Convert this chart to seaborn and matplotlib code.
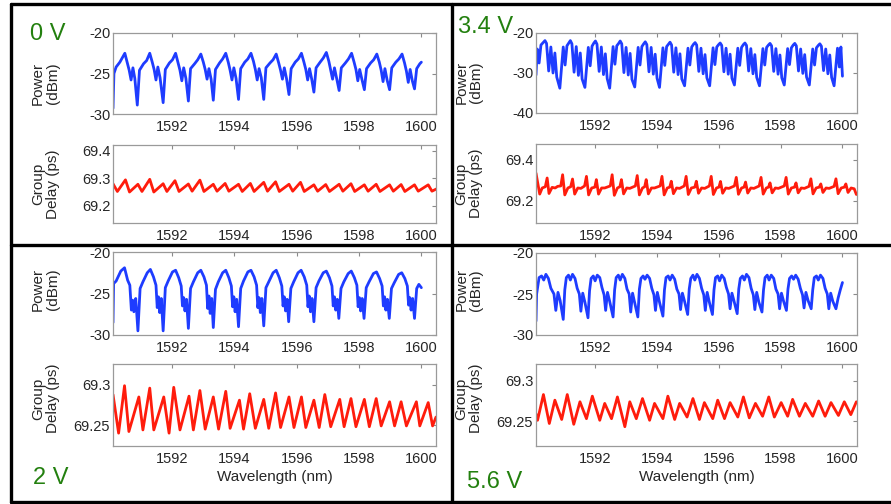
import matplotlib
matplotlib.use("Agg")
import matplotlib.pyplot as plt
from matplotlib.lines import Line2D
import seaborn as sns

# ---------------- data ----------------
# 0 V : power (dBm) vs wavelength (nm)
wl_0v_pow = [1590.10, 1590.13, 1590.20, 1590.32, 1590.48, 1590.56, 1590.62, 1590.68, 1590.74, 1590.80,
             1590.88, 1590.95, 1591.08, 1591.18, 1591.28, 1591.36, 1591.42, 1591.48, 1591.54, 1591.61,
             1591.71, 1591.78, 1591.91, 1592.01, 1592.11, 1592.19, 1592.25, 1592.31, 1592.37, 1592.44,
             1592.52, 1592.59, 1592.72, 1592.82, 1592.92, 1593.00, 1593.06, 1593.12, 1593.18, 1593.25,
             1593.32, 1593.39, 1593.52, 1593.62, 1593.72, 1593.80, 1593.86, 1593.92, 1593.98, 1594.05,
             1594.13, 1594.20, 1594.33, 1594.43, 1594.53, 1594.61, 1594.67, 1594.73, 1594.79, 1594.86,
             1594.94, 1595.01, 1595.14, 1595.24, 1595.34, 1595.42, 1595.48, 1595.54, 1595.60, 1595.67,
             1595.75, 1595.82, 1595.95, 1596.05, 1596.15, 1596.23, 1596.29, 1596.35, 1596.41, 1596.48,
             1596.55, 1596.62, 1596.75, 1596.85, 1596.95, 1597.03, 1597.09, 1597.15, 1597.21, 1597.28,
             1597.36, 1597.43, 1597.56, 1597.66, 1597.76, 1597.84, 1597.90, 1597.96, 1598.02, 1598.09,
             1598.17, 1598.24, 1598.37, 1598.47, 1598.57, 1598.65, 1598.71, 1598.77, 1598.83, 1598.90,
             1598.98, 1599.05, 1599.18, 1599.28, 1599.38, 1599.46, 1599.52, 1599.58, 1599.64, 1599.71,
             1599.78, 1599.85, 1599.95, 1600.00]
pow_0v = [-29.3, -25.0, -24.2, -23.6, -22.5, -23.7, -24.6, -25.8, -24.3, -25.6,
          -28.9, -24.6, -23.8, -23.4, -22.5, -23.6, -24.5, -25.8, -24.2, -25.5,
          -28.6, -24.5, -23.7, -23.3, -22.5, -23.7, -24.6, -25.9, -24.3, -25.6,
          -28.4, -24.4, -23.8, -23.3, -22.6, -23.6, -24.5, -25.7, -24.4, -25.7,
          -28.3, -24.5, -23.7, -23.2, -22.5, -23.6, -24.6, -25.8, -24.3, -25.6,
          -28.2, -24.4, -23.6, -23.2, -22.5, -23.5, -24.5, -25.8, -24.4, -25.5,
          -28.2, -24.3, -23.7, -23.3, -22.6, -23.7, -24.6, -25.7, -24.3, -25.6,
          -27.6, -24.4, -23.6, -23.2, -22.5, -23.6, -24.5, -25.8, -24.4, -25.7,
          -27.3, -24.3, -23.6, -23.1, -22.4, -23.5, -24.6, -25.7, -24.3, -25.6,
          -27.1, -24.3, -23.7, -23.2, -22.5, -23.6, -24.5, -25.9, -24.5, -25.7,
          -27.0, -24.4, -23.7, -23.3, -22.6, -23.6, -24.6, -26.0, -24.4, -25.8,
          -27.0, -24.3, -23.6, -23.2, -22.6, -23.7, -24.7, -26.1, -24.5, -25.9,
          -26.9, -24.4, -23.8, -23.6]

# 0 V : group delay (ps)
wl_0v_gd = [1590.10, 1590.24, 1590.50, 1590.63, 1590.90, 1591.03, 1591.28, 1591.41, 1591.71, 1591.83,
            1592.09, 1592.22, 1592.52, 1592.64, 1592.89, 1593.02, 1593.32, 1593.44, 1593.70, 1593.82,
            1594.13, 1594.25, 1594.51, 1594.63, 1594.94, 1595.06, 1595.32, 1595.44, 1595.75, 1595.87,
            1596.12, 1596.24, 1596.55, 1596.67, 1596.93, 1597.05, 1597.36, 1597.48, 1597.74, 1597.86,
            1598.17, 1598.29, 1598.55, 1598.67, 1598.98, 1599.10, 1599.35, 1599.47, 1599.78, 1599.90,
            1600.22, 1600.34, 1600.50]
gd_0v = [69.280, 69.252, 69.294, 69.250, 69.278, 69.252, 69.296, 69.250, 69.280, 69.252,
         69.291, 69.252, 69.279, 69.253, 69.293, 69.252, 69.278, 69.253, 69.281, 69.253,
         69.278, 69.252, 69.281, 69.252, 69.285, 69.253, 69.287, 69.252, 69.278, 69.253,
         69.285, 69.252, 69.276, 69.253, 69.277, 69.252, 69.278, 69.253, 69.280, 69.252,
         69.276, 69.253, 69.278, 69.252, 69.276, 69.253, 69.277, 69.252, 69.276, 69.253,
         69.276, 69.253, 69.262]

# 3.4 V : power (dBm)
wl_34v_pow = [1590.10, 1590.14, 1590.20, 1590.26, 1590.34, 1590.39, 1590.44, 1590.51, 1590.58, 1590.65, 1590.71, 1590.77,
              1590.87, 1590.98, 1591.04, 1591.10, 1591.16, 1591.21, 1591.26, 1591.33, 1591.40, 1591.47, 1591.53, 1591.59,
              1591.68, 1591.79, 1591.85, 1591.91, 1591.97, 1592.02, 1592.07, 1592.14, 1592.21, 1592.28, 1592.34, 1592.40,
              1592.48, 1592.59, 1592.65, 1592.71, 1592.77, 1592.82, 1592.87, 1592.94, 1593.01, 1593.08, 1593.14, 1593.20,
              1593.29, 1593.40, 1593.46, 1593.52, 1593.58, 1593.63, 1593.68, 1593.75, 1593.82, 1593.89, 1593.95, 1594.01,
              1594.09, 1594.20, 1594.26, 1594.32, 1594.38, 1594.43, 1594.48, 1594.55, 1594.62, 1594.69, 1594.75, 1594.81,
              1594.90, 1595.01, 1595.07, 1595.13, 1595.19, 1595.24, 1595.29, 1595.36, 1595.43, 1595.50, 1595.56, 1595.62,
              1595.71, 1595.82, 1595.88, 1595.94, 1596.00, 1596.05, 1596.10, 1596.17, 1596.24, 1596.31, 1596.37, 1596.43,
              1596.51, 1596.62, 1596.68, 1596.74, 1596.80, 1596.85, 1596.90, 1596.97, 1597.04, 1597.11, 1597.17, 1597.23,
              1597.32, 1597.43, 1597.49, 1597.55, 1597.61, 1597.66, 1597.71, 1597.78, 1597.85, 1597.92, 1597.98, 1598.04,
              1598.12, 1598.23, 1598.29, 1598.35, 1598.41, 1598.46, 1598.51, 1598.58, 1598.65, 1598.72, 1598.78, 1598.84,
              1598.93, 1599.04, 1599.10, 1599.16, 1599.22, 1599.27, 1599.32, 1599.39, 1599.46, 1599.53, 1599.59, 1599.65,
              1599.73, 1599.84, 1599.90, 1599.95, 1600.00]
pow_34v = [-30.5, -24.0, -27.5, -23.0, -22.3, -21.9, -22.6, -29.5, -23.5, -30.0, -25.0, -31.0,
           -33.8, -23.5, -28.0, -23.2, -22.5, -21.9, -22.7, -29.8, -23.4, -30.6, -25.0, -31.5,
           -33.6, -23.6, -28.2, -23.3, -22.5, -22.0, -22.8, -29.6, -23.5, -30.4, -25.2, -31.4,
           -33.8, -23.4, -27.8, -23.2, -22.6, -22.0, -22.7, -29.9, -23.6, -30.5, -25.1, -31.6,
           -33.5, -23.6, -28.0, -23.4, -22.7, -22.2, -22.9, -29.7, -23.6, -30.3, -25.3, -31.3,
           -33.6, -23.7, -28.1, -23.4, -22.8, -22.3, -23.0, -29.8, -23.7, -30.4, -25.2, -31.5,
           -33.2, -23.8, -28.0, -23.5, -22.8, -22.4, -23.0, -29.6, -23.8, -30.2, -25.4, -31.2,
           -33.2, -23.7, -27.9, -23.5, -22.9, -22.5, -23.1, -29.7, -23.8, -30.3, -25.3, -31.3,
           -33.0, -23.8, -28.1, -23.6, -22.9, -22.5, -23.1, -29.5, -23.9, -30.2, -25.4, -31.1,
           -33.2, -23.9, -28.0, -23.6, -23.0, -22.6, -23.2, -29.6, -23.9, -30.3, -25.5, -31.2,
           -33.0, -23.9, -27.9, -23.7, -23.0, -22.6, -23.2, -29.5, -24.0, -30.1, -25.4, -31.0,
           -33.0, -24.0, -28.0, -23.7, -23.1, -22.7, -23.3, -29.4, -24.0, -30.2, -25.5, -31.1,
           -33.2, -23.8, -28.5, -23.5, -30.8]

# 3.4 V : group delay (ps)
wl_34v_gd = [1590.10, 1590.14, 1590.22, 1590.30, 1590.40, 1590.46, 1590.52, 1590.62, 1590.72, 1590.80, 1590.90,
             1590.96, 1591.03, 1591.13, 1591.22, 1591.28, 1591.35, 1591.45, 1591.55, 1591.67,
             1591.73, 1591.80, 1591.90, 1592.00, 1592.05, 1592.12, 1592.22, 1592.32, 1592.50,
             1592.56, 1592.63, 1592.73, 1592.81, 1592.86, 1592.93, 1593.03, 1593.13, 1593.31,
             1593.37, 1593.44, 1593.54, 1593.61, 1593.66, 1593.73, 1593.83, 1593.93, 1594.11,
             1594.17, 1594.24, 1594.34, 1594.42, 1594.47, 1594.54, 1594.64, 1594.74, 1594.89,
             1594.95, 1595.02, 1595.12, 1595.23, 1595.28, 1595.35, 1595.45, 1595.55, 1595.70,
             1595.76, 1595.83, 1595.93, 1596.01, 1596.06, 1596.13, 1596.23, 1596.33, 1596.51,
             1596.57, 1596.64, 1596.74, 1596.82, 1596.87, 1596.94, 1597.04, 1597.14, 1597.31,
             1597.37, 1597.44, 1597.54, 1597.61, 1597.66, 1597.73, 1597.83, 1597.93, 1598.12,
             1598.18, 1598.25, 1598.35, 1598.45, 1598.50, 1598.57, 1598.67, 1598.77, 1598.92,
             1598.98, 1599.05, 1599.15, 1599.25, 1599.30, 1599.37, 1599.47, 1599.57, 1599.73,
             1599.79, 1599.86, 1599.96, 1600.06, 1600.11, 1600.18, 1600.28, 1600.38, 1600.45]
gd_34v = [69.335, 69.300, 69.232, 69.262, 69.268, 69.311, 69.235, 69.265, 69.262, 69.270, 69.272,
          69.327, 69.228, 69.262, 69.268, 69.306, 69.232, 69.262, 69.260, 69.272,
          69.319, 69.228, 69.262, 69.266, 69.303, 69.232, 69.262, 69.262, 69.272,
          69.327, 69.226, 69.262, 69.268, 69.303, 69.233, 69.262, 69.260, 69.272,
          69.323, 69.228, 69.262, 69.268, 69.303, 69.233, 69.262, 69.262, 69.272,
          69.319, 69.228, 69.262, 69.266, 69.295, 69.234, 69.262, 69.260, 69.272,
          69.319, 69.230, 69.262, 69.266, 69.295, 69.236, 69.262, 69.260, 69.272,
          69.319, 69.230, 69.262, 69.266, 69.294, 69.236, 69.262, 69.260, 69.272,
          69.314, 69.231, 69.262, 69.266, 69.291, 69.237, 69.262, 69.260, 69.272,
          69.314, 69.232, 69.262, 69.266, 69.287, 69.238, 69.262, 69.260, 69.272,
          69.314, 69.232, 69.262, 69.266, 69.287, 69.238, 69.262, 69.260, 69.270,
          69.307, 69.233, 69.262, 69.266, 69.282, 69.240, 69.262, 69.260, 69.270,
          69.307, 69.234, 69.262, 69.266, 69.282, 69.240, 69.262, 69.258, 69.230]

# 2 V : power (dBm)
wl_2v_pow = [1590.10, 1590.12, 1590.20, 1590.35, 1590.47, 1590.57, 1590.64, 1590.69, 1590.73, 1590.77, 1590.83,
             1590.90, 1590.97, 1591.06, 1591.20, 1591.30, 1591.40, 1591.48, 1591.52, 1591.56, 1591.60, 1591.65,
             1591.71, 1591.78, 1591.87, 1592.01, 1592.11, 1592.21, 1592.29, 1592.33, 1592.37, 1592.41, 1592.46,
             1592.52, 1592.59, 1592.68, 1592.82, 1592.92, 1593.02, 1593.10, 1593.14, 1593.18, 1593.22, 1593.27,
             1593.32, 1593.39, 1593.48, 1593.62, 1593.72, 1593.82, 1593.90, 1593.94, 1593.98, 1594.02, 1594.07,
             1594.13, 1594.20, 1594.29, 1594.43, 1594.53, 1594.63, 1594.71, 1594.75, 1594.79, 1594.83, 1594.88,
             1594.94, 1595.01, 1595.10, 1595.24, 1595.34, 1595.44, 1595.52, 1595.56, 1595.60, 1595.64, 1595.69,
             1595.74, 1595.81, 1595.90, 1596.04, 1596.14, 1596.24, 1596.32, 1596.36, 1596.40, 1596.44, 1596.49,
             1596.55, 1596.62, 1596.71, 1596.85, 1596.95, 1597.05, 1597.13, 1597.17, 1597.21, 1597.25, 1597.30,
             1597.35, 1597.42, 1597.51, 1597.65, 1597.75, 1597.85, 1597.93, 1597.97, 1598.01, 1598.05, 1598.10,
             1598.16, 1598.23, 1598.32, 1598.46, 1598.56, 1598.66, 1598.74, 1598.78, 1598.82, 1598.86, 1598.91,
             1598.97, 1599.04, 1599.13, 1599.27, 1599.37, 1599.47, 1599.55, 1599.59, 1599.63, 1599.67, 1599.72,
             1599.78, 1599.85, 1599.92, 1600.00]
pow_2v = [-28.5, -23.8, -23.5, -22.3, -21.9, -23.4, -24.0, -27.0, -25.8, -27.2, -25.6,
          -29.5, -24.4, -23.6, -22.5, -22.1, -23.0, -24.0, -26.7, -25.4, -27.3, -25.6,
          -29.5, -24.3, -23.5, -22.4, -22.2, -23.1, -24.1, -26.5, -25.5, -27.1, -25.7,
          -29.2, -24.4, -23.6, -22.5, -22.2, -23.0, -24.0, -26.8, -25.3, -27.4, -25.6,
          -29.1, -24.5, -23.6, -22.5, -22.2, -23.1, -24.1, -26.6, -25.4, -27.2, -25.7,
          -29.0, -24.4, -23.5, -22.4, -22.2, -23.0, -24.0, -26.7, -25.5, -27.3, -25.6,
          -28.9, -24.3, -23.6, -22.5, -22.2, -23.1, -24.1, -26.5, -25.4, -27.1, -25.7,
          -28.4, -24.4, -23.6, -22.5, -22.2, -23.0, -24.0, -26.6, -25.3, -27.2, -25.6,
          -28.4, -24.3, -23.5, -22.5, -22.3, -23.1, -24.1, -26.5, -25.4, -27.0, -25.7,
          -28.0, -24.4, -23.6, -22.6, -22.3, -23.1, -24.0, -26.6, -25.5, -27.1, -25.6,
          -28.0, -24.3, -23.6, -22.6, -22.4, -23.2, -24.1, -26.5, -25.4, -27.0, -25.7,
          -28.0, -24.4, -23.7, -22.7, -22.5, -23.2, -24.1, -26.4, -25.5, -27.0, -25.6,
          -28.0, -24.4, -23.9, -24.3]

# 2 V : group delay (ps)
wl_2v_gd = [1590.10, 1590.28, 1590.47, 1590.61, 1590.93, 1591.06, 1591.28, 1591.41, 1591.73, 1591.90,
            1592.05, 1592.25, 1592.54, 1592.68, 1592.89, 1593.06, 1593.32, 1593.49, 1593.72, 1593.86,
            1594.16, 1594.29, 1594.49, 1594.67, 1594.94, 1595.10, 1595.32, 1595.48, 1595.75, 1595.91,
            1596.15, 1596.29, 1596.55, 1596.72, 1596.90, 1597.09, 1597.38, 1597.52, 1597.74, 1597.90,
            1598.17, 1598.33, 1598.55, 1598.71, 1598.98, 1599.14, 1599.35, 1599.52, 1599.84, 1599.95,
            1600.22, 1600.36, 1600.47]
gd_2v = [69.288, 69.240, 69.299, 69.242, 69.285, 69.244, 69.296, 69.244, 69.285, 69.240,
         69.297, 69.244, 69.286, 69.244, 69.293, 69.245, 69.285, 69.245, 69.292, 69.246,
         69.281, 69.245, 69.289, 69.246, 69.282, 69.246, 69.290, 69.247, 69.285, 69.247,
         69.285, 69.247, 69.281, 69.247, 69.288, 69.248, 69.282, 69.248, 69.283, 69.248,
         69.282, 69.248, 69.283, 69.249, 69.279, 69.249, 69.279, 69.249, 69.279, 69.249,
         69.278, 69.249, 69.260]

# 5.6 V : power (dBm)
wl_56v_pow = [1590.10, 1590.12, 1590.20, 1590.28, 1590.35, 1590.42, 1590.50, 1590.58, 1590.68, 1590.74, 1590.81, 1590.88,
              1590.98, 1591.03, 1591.08, 1591.15, 1591.21, 1591.28, 1591.36, 1591.43, 1591.50, 1591.55, 1591.61, 1591.68,
              1591.78, 1591.83, 1591.88, 1591.95, 1592.01, 1592.08, 1592.16, 1592.23, 1592.30, 1592.35, 1592.41, 1592.48,
              1592.59, 1592.64, 1592.69, 1592.76, 1592.82, 1592.89, 1592.97, 1593.04, 1593.11, 1593.16, 1593.22, 1593.29,
              1593.39, 1593.44, 1593.49, 1593.56, 1593.62, 1593.69, 1593.77, 1593.84, 1593.91, 1593.96, 1594.02, 1594.09,
              1594.20, 1594.25, 1594.30, 1594.37, 1594.43, 1594.50, 1594.58, 1594.65, 1594.72, 1594.77, 1594.83, 1594.90,
              1595.00, 1595.05, 1595.10, 1595.17, 1595.23, 1595.30, 1595.38, 1595.45, 1595.52, 1595.57, 1595.63, 1595.70,
              1595.80, 1595.85, 1595.90, 1595.97, 1596.03, 1596.10, 1596.18, 1596.25, 1596.32, 1596.37, 1596.43, 1596.50,
              1596.60, 1596.65, 1596.70, 1596.77, 1596.83, 1596.90, 1596.98, 1597.05, 1597.12, 1597.17, 1597.23, 1597.30,
              1597.40, 1597.45, 1597.50, 1597.57, 1597.63, 1597.70, 1597.78, 1597.85, 1597.92, 1597.97, 1598.03, 1598.10,
              1598.19, 1598.24, 1598.29, 1598.36, 1598.42, 1598.49, 1598.57, 1598.64, 1598.71, 1598.76, 1598.82, 1598.89,
              1598.99, 1599.04, 1599.09, 1599.16, 1599.22, 1599.29, 1599.37, 1599.44, 1599.51, 1599.56, 1599.62, 1599.69,
              1599.79, 1599.86, 1599.93, 1600.00]
pow_56v = [-28.3, -25.0, -23.0, -22.8, -23.3, -22.6, -23.1, -24.3, -25.0, -27.0, -24.8, -25.8,
           -28.1, -24.5, -23.0, -22.7, -23.3, -22.6, -23.1, -24.3, -25.0, -27.1, -24.9, -26.0,
           -27.9, -24.6, -23.1, -22.8, -23.4, -22.7, -23.0, -24.2, -25.1, -27.0, -24.8, -25.9,
           -27.8, -24.5, -23.0, -22.7, -23.3, -22.6, -23.1, -24.4, -25.0, -27.2, -24.9, -26.1,
           -27.8, -24.4, -23.1, -22.8, -23.2, -22.7, -23.1, -24.3, -25.1, -27.0, -24.8, -26.0,
           -27.7, -24.5, -23.0, -22.8, -23.3, -22.7, -23.2, -24.4, -25.0, -26.9, -24.9, -25.9,
           -27.5, -24.4, -23.1, -22.7, -23.3, -22.6, -23.1, -24.3, -25.1, -27.0, -24.8, -26.0,
           -27.5, -24.5, -23.0, -22.8, -23.4, -22.7, -23.1, -24.2, -25.0, -26.8, -24.9, -25.9,
           -27.4, -24.4, -23.1, -22.8, -23.3, -22.6, -23.0, -24.3, -25.1, -26.9, -24.8, -26.0,
           -27.2, -24.5, -23.0, -22.7, -23.3, -22.7, -23.1, -24.4, -25.0, -26.8, -24.9, -25.9,
           -27.0, -24.4, -23.1, -22.8, -23.2, -22.7, -23.2, -24.3, -25.1, -26.7, -24.8, -25.8,
           -26.8, -24.5, -23.0, -22.8, -23.3, -22.7, -23.1, -24.3, -25.0, -26.8, -24.9, -25.9,
           -26.8, -25.5, -24.5, -23.6]

# 5.6 V : group delay (ps)
wl_56v_gd = [1590.10, 1590.15, 1590.34, 1590.53, 1590.71, 1590.93, 1591.11, 1591.32, 1591.52, 1591.73,
             1591.92, 1592.16, 1592.32, 1592.54, 1592.73, 1592.97, 1593.13, 1593.34, 1593.54, 1593.77,
             1593.93, 1594.20, 1594.36, 1594.58, 1594.74, 1594.98, 1595.17, 1595.38, 1595.54, 1595.81,
             1595.97, 1596.19, 1596.37, 1596.62, 1596.80, 1596.99, 1597.19, 1597.42, 1597.62, 1597.80,
             1598.02, 1598.23, 1598.39, 1598.61, 1598.80, 1599.04, 1599.23, 1599.44, 1599.63, 1599.87,
             1600.06, 1600.27, 1600.45]
gd_56v = [69.259, 69.251, 69.283, 69.247, 69.276, 69.252, 69.283, 69.246, 69.274, 69.253,
          69.281, 69.251, 69.272, 69.253, 69.280, 69.243, 69.274, 69.253, 69.278, 69.251,
          69.272, 69.253, 69.281, 69.252, 69.272, 69.255, 69.278, 69.252, 69.273, 69.253,
          69.276, 69.253, 69.273, 69.255, 69.280, 69.254, 69.272, 69.256, 69.280, 69.255,
          69.273, 69.256, 69.277, 69.256, 69.272, 69.256, 69.275, 69.256, 69.273, 69.257,
          69.274, 69.258, 69.274]

x_ticks = [1592, 1594, 1596, 1598, 1600]
panel_labels = ["0 V", "3.4 V", "2 V", "5.6 V"]

# ---------------- style ----------------
sns.set_style("white")
plt.rcParams["font.family"] = ["Liberation Sans", "DejaVu Sans"]
plt.rcParams["axes.unicode_minus"] = False

BLUE = "#1e3cff"
RED = "#ff1c0c"
GREEN = "#23800f"
W, H = 891, 504

fig = plt.figure(figsize=(W / 100, H / 100), dpi=100)


def make_axes(l, t, r, b):
    return fig.add_axes([l / W, 1 - b / H, (r - l) / W, (b - t) / H])


def style(ax, ylim, yticks, yticklabels, ylabel, label_y, show_xlabel=False):
    ax.set_xlim(1590.1, 1600.47)
    ax.set_ylim(*ylim)
    ax.set_xticks(x_ticks)
    ax.set_xticklabels([str(t) for t in x_ticks])
    ax.set_yticks(yticks)
    ax.set_yticklabels(yticklabels)
    ax.tick_params(direction="in", length=3, width=0.8, color="#8a8a8a",
                   top=True, right=True, labelsize=10.5)
    ax.tick_params(axis="y", pad=2)
    ax.tick_params(axis="x", pad=4)
    for s in ax.spines.values():
        s.set_color("#9a9a9a")
        s.set_linewidth(0.9)
    ax.set_ylabel(ylabel, fontsize=11, linespacing=1.05)
    ax.yaxis.set_label_coords(-0.165, label_y)
    if show_xlabel:
        ax.set_xlabel("Wavelength (nm)", fontsize=11, labelpad=3)
    else:
        ax.set_xlabel("")


panels = [
    dict(pbox=(113, 33, 436, 114), gbox=(113, 145, 436, 223),
         pw=(wl_0v_pow, pow_0v), gd=(wl_0v_gd, gd_0v),
         plim=(-30, -20), pticks=[-30, -25, -20], pl=["-30", "-25", "-20"],
         glim=(69.138, 69.42), gticks=[69.2, 69.3, 69.4], gl=["69.2", "69.3", "69.4"],
         ply=0.38, gly=0.5, xl=False, txt=(30, 40)),
    dict(pbox=(536, 33, 857, 113), gbox=(536, 144, 857, 223),
         pw=(wl_34v_pow, pow_34v), gd=(wl_34v_gd, gd_34v),
         plim=(-40, -20), pticks=[-40, -30, -20], pl=["-40", "-30", "-20"],
         glim=(69.09, 69.478), gticks=[69.2, 69.4], gl=["69.2", "69.4"],
         ply=0.38, gly=0.5, xl=False, txt=(458, 33)),
    dict(pbox=(113, 252, 436, 335), gbox=(113, 364, 436, 446),
         pw=(wl_2v_pow, pow_2v), gd=(wl_2v_gd, gd_2v),
         plim=(-30, -20), pticks=[-30, -25, -20], pl=["-30", "-25", "-20"],
         glim=(69.224, 69.326), gticks=[69.25, 69.3], gl=["69.25", "69.3"],
         ply=0.55, gly=0.58, xl=True, txt=(33, 484)),
    dict(pbox=(536, 253, 857, 335), gbox=(536, 364, 857, 446),
         pw=(wl_56v_pow, pow_56v), gd=(wl_56v_gd, gd_56v),
         plim=(-30, -20), pticks=[-30, -25, -20], pl=["-30", "-25", "-20"],
         glim=(69.219, 69.321), gticks=[69.25, 69.3], gl=["69.25", "69.3"],
         ply=0.55, gly=0.58, xl=True, txt=(467, 488)),
]

for p, name in zip(panels, panel_labels):
    axp = make_axes(*p["pbox"])
    sns.lineplot(x=p["pw"][0], y=p["pw"][1], ax=axp, color=BLUE, lw=2.0, estimator=None)
    style(axp, p["plim"], p["pticks"], p["pl"], "Power\n(dBm)", p["ply"])

    axg = make_axes(*p["gbox"])
    sns.lineplot(x=p["gd"][0], y=p["gd"][1], ax=axg, color=RED, lw=2.0, estimator=None)
    style(axg, p["glim"], p["gticks"], p["gl"], "Group\nDelay (ps)", p["gly"], show_xlabel=p["xl"])

    tx, ty = p["txt"]
    fig.text(tx / W, 1 - ty / H, name, fontsize=17, color=GREEN, ha="left", va="baseline")

# black frame lines separating the four panels
frame = [((11, 4), (891, 4)), ((11, 4), (11, 502)), ((11, 502), (891, 502)),
         ((452, 4), (452, 502)), ((11, 245), (891, 245))]
for (x0, y0), (x1, y1) in frame:
    fig.add_artist(Line2D([x0 / W, x1 / W], [1 - y0 / H, 1 - y1 / H],
                          transform=fig.transFigure, color="black", lw=2.4))

fig.savefig("out.png", dpi=100)
